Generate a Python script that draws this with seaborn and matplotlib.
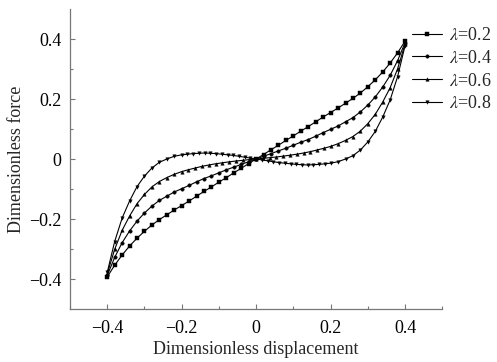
import numpy as np
import pandas as pd
import matplotlib
matplotlib.use("Agg")
import matplotlib.pyplot as plt
import seaborn as sns

# ---------------- data ----------------
lambdas = ["0.2", "0.4", "0.6", "0.8"]

x_02 = [-0.40, -0.38, -0.36, -0.34, -0.32, -0.30, -0.28, -0.26, -0.24, -0.22, -0.20,
        -0.18, -0.16, -0.14, -0.12, -0.10, -0.08, -0.06, -0.04, -0.02, 0.00,
        0.02, 0.04, 0.06, 0.08, 0.10, 0.12, 0.14, 0.16, 0.18, 0.20,
        0.22, 0.24, 0.26, 0.28, 0.30, 0.32, 0.34, 0.36, 0.38, 0.40]
y_02 = [-0.393, -0.354, -0.320, -0.290, -0.264, -0.241, -0.220, -0.202, -0.186, -0.170, -0.155,
        -0.140, -0.124, -0.108, -0.093, -0.077, -0.062, -0.046, -0.031, -0.015, 0.000,
        0.015, 0.031, 0.046, 0.062, 0.077, 0.093, 0.108, 0.124, 0.140, 0.155,
        0.170, 0.186, 0.202, 0.220, 0.241, 0.264, 0.290, 0.320, 0.354, 0.393]

x_04 = x_02
y_04 = [-0.388, -0.328, -0.279, -0.240, -0.207, -0.180, -0.157, -0.138, -0.124, -0.110, -0.099,
        -0.088, -0.076, -0.065, -0.056, -0.046, -0.036, -0.027, -0.018, -0.009, 0.000,
        0.009, 0.018, 0.027, 0.036, 0.046, 0.056, 0.065, 0.076, 0.088, 0.099,
        0.110, 0.124, 0.138, 0.157, 0.180, 0.207, 0.240, 0.279, 0.328, 0.388]

x_06 = [-0.40, -0.38, -0.36, -0.34, -0.32, -0.30, -0.28, -0.26, -0.24, -0.22, -0.20,
        -0.1818, -0.1636, -0.1455, -0.1273, -0.1091, -0.0909, -0.0727, -0.0545, -0.0364, -0.0182, 0.0,
        0.0182, 0.0364, 0.0545, 0.0727, 0.0909, 0.1091, 0.1273, 0.1455, 0.1636, 0.1818,
        0.20, 0.22, 0.24, 0.26, 0.28, 0.30, 0.32, 0.34, 0.36, 0.38, 0.40]
y_06 = [-0.383, -0.301, -0.238, -0.190, -0.149, -0.118, -0.093, -0.075, -0.062, -0.051, -0.042,
        -0.0357, -0.030, -0.0245, -0.020, -0.016, -0.0127, -0.0095, -0.0067, -0.0045, -0.002, 0.0,
        0.002, 0.0045, 0.0067, 0.0095, 0.0127, 0.016, 0.020, 0.0245, 0.030, 0.0357,
        0.042, 0.051, 0.062, 0.075, 0.093, 0.118, 0.149, 0.190, 0.238, 0.301, 0.383]

x_08 = [-0.40, -0.38, -0.36, -0.34, -0.32, -0.30, -0.28, -0.26, -0.24, -0.22, -0.20,
        -0.1846, -0.1692, -0.1538, -0.1385, -0.1231, -0.1077, -0.0923, -0.0769, -0.0615, -0.0462,
        -0.0308, -0.0154, 0.0,
        0.0154, 0.0308, 0.0462, 0.0615, 0.0769, 0.0923, 0.1077, 0.1231, 0.1385, 0.1538,
        0.1692, 0.1846, 0.20, 0.22, 0.24, 0.26, 0.28, 0.30, 0.32, 0.34, 0.36, 0.38, 0.40]
y_08 = [-0.378, -0.275, -0.197, -0.140, -0.092, -0.057, -0.030, -0.011, 0.000, 0.009, 0.014,
        0.016, 0.018, 0.019, 0.020, 0.019, 0.018, 0.016, 0.014, 0.012, 0.009,
        0.006, 0.003, 0.000,
        -0.003, -0.006, -0.009, -0.012, -0.014, -0.016, -0.018, -0.019, -0.020, -0.019,
        -0.018, -0.016, -0.014, -0.009, 0.000, 0.011, 0.030, 0.057, 0.092, 0.140, 0.197, 0.275, 0.378]

xs = [x_02, x_04, x_06, x_08]
ys = [y_02, y_04, y_06, y_08]

x_ticks = [-0.4, -0.2, 0.0, 0.2, 0.4]
x_ticklabels = ["\u22120.4", "\u22120.2", "0", "0.2", "0.4"]
y_ticks = [-0.4, -0.2, 0.0, 0.2, 0.4]
y_ticklabels = ["\u22120.4", "\u22120.2", "0", "0.2", "0.4"]

labels = [r"$\lambda$=" + l for l in lambdas]
frames = []
for lab, xv, yv in zip(labels, xs, ys):
    frames.append(pd.DataFrame({"x": xv, "y": yv, "curve": lab}))
df = pd.concat(frames, ignore_index=True)

# ---------------- style ----------------
sns.set_style("ticks")
plt.rcParams["font.family"] = ["Liberation Serif", "DejaVu Serif"]
plt.rcParams["mathtext.fontset"] = "stix"
FS = 13

fig = plt.figure(figsize=(4.97, 3.62), dpi=100)
ax = fig.add_axes([70 / 497, 1 - 309 / 362, 372.3 / 497, 300 / 362])

sns.lineplot(data=df, x="x", y="y", hue="curve", style="curve",
             palette=["black"] * 4, markers=["s", "o", "^", "v"], dashes=False,
             estimator=None, sort=False, linewidth=0.8, markersize=2.5,
             markeredgecolor="black", markeredgewidth=0.3, ax=ax, legend=True)

ax.set_xlim(-0.5, 0.5)
ax.set_ylim(-0.5, 0.5)
ax.set_xticks(x_ticks)
ax.set_xticklabels(x_ticklabels)
ax.set_yticks(y_ticks)
ax.set_yticklabels(y_ticklabels)
ax.set_xticks([-0.5, -0.3, -0.1, 0.1, 0.3, 0.5], minor=True)
ax.set_yticks([-0.3, -0.1, 0.1, 0.3], minor=True)

spine_col = "#777777"
for s in ["top", "right"]:
    ax.spines[s].set_visible(False)
for s in ["left", "bottom"]:
    ax.spines[s].set_color(spine_col)
    ax.spines[s].set_linewidth(0.9)

ax.tick_params(which="major", direction="in", length=3.5, width=0.8, color=spine_col,
               labelsize=FS, labelcolor="black")
ax.tick_params(axis="x", which="major", pad=8)
ax.tick_params(axis="y", which="major", pad=6)
ax.tick_params(which="minor", direction="in", length=2, width=0.8, color=spine_col)

ax.set_xlabel("Dimensionless displacement", fontsize=FS, labelpad=3)
ax.set_ylabel("Dimensionless force", fontsize=FS, labelpad=3)

handles, labs = ax.get_legend_handles_labels()
ax.get_legend().remove()
leg = fig.legend(handles, labs, loc="upper left", bbox_to_anchor=(412 / 497, 1 - 27 / 362),
                 frameon=False, fontsize=FS, handlelength=1.65, handletextpad=0.4,
                 labelspacing=0.32, borderpad=0, borderaxespad=0)

fig.savefig("out.png", dpi=100)
